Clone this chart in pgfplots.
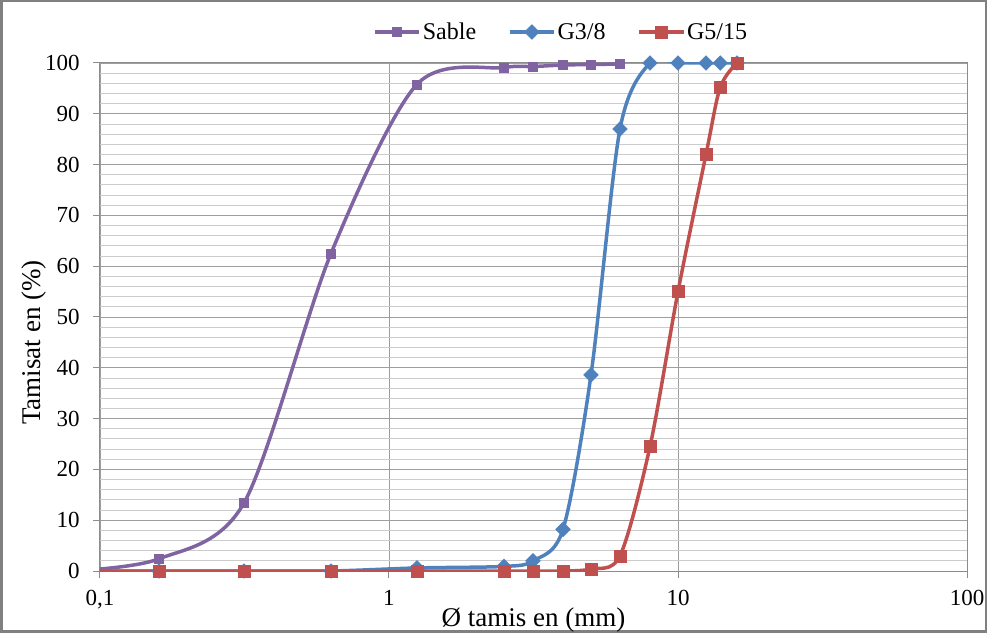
\documentclass[border=0pt]{standalone}
\usepackage{fontspec}
\setmainfont{Liberation Serif}
\usepackage{pgfplots}
\pgfplotsset{compat=1.18}
\definecolor{cPurple}{RGB}{128,100,162}
\definecolor{cBlue}{RGB}{79,129,189}
\definecolor{cRed}{RGB}{192,80,77}
\begin{document}
\begin{tikzpicture}
\useasboundingbox (0,0) rectangle (987bp,633bp);
\draw[color=black!50, line width=2bp] (1.5bp,1.5bp) rectangle (985.5bp,631.5bp);
\begin{axis}[
  at={(100bp,62bp)}, anchor=south west,
  scale only axis, width=867bp, height=508bp,
  font=\fontsize{23bp}{27bp}\selectfont,
  xmode=log, log basis x=10,
  xmin=0.1, xmax=100, ymin=0, ymax=100,
  xtick={0.1,1,10,100}, xticklabels={{0,1},1,10,100},
  ytick={0,10,...,100},
  minor y tick num=4,
  grid=both,
  major grid style={color=black!38, line width=0.9bp},
  minor grid style={color=black!20, line width=0.9bp},
  axis line style={color=black!45, line width=1bp},
  tick pos=left,
  tick align=outside, major tick length=7bp, minor tick length=0pt,
  tick style={color=black!45, line width=1bp},
  yticklabel style={/pgf/number format/assume math mode=true, xshift=-10bp},
  xticklabel style={yshift=-9bp},
  xlabel={\fontsize{27bp}{31bp}\selectfont Ø tamis en (mm)},
  ylabel={\fontsize{27bp}{31bp}\selectfont Tamisat en (\%)},
  every axis x label/.style={at={(axis description cs:0.5,-0.097)}, anchor=center},
  every axis y label/.style={at={(axis description cs:-0.076,0.45)}, anchor=center, rotate=90},
  legend columns=3,
  legend style={at={(axis description cs:0.532,1.061)}, anchor=center, draw=none, fill=none,
    font=\fontsize{24bp}{28bp}\selectfont,
    nodes={inner sep=2bp},
    /tikz/every even column/.append style={column sep=30bp}},
  legend image code/.code={\draw[mark repeat=2, mark phase=2] plot coordinates {(0bp,0bp) (22bp,0bp) (44bp,0bp)};},
  every axis plot/.append style={line width=3.5bp, smooth, tension=0.5},
]
\addplot[color=cPurple, mark=square*, mark size=4.5bp, mark options={solid, line width=0.5bp}]
  coordinates {(0.08,0) (0.16,2.4) (0.315,13.4) (0.63,62.5) (1.25,95.8) (2.5,99.1) (3.15,99.3) (4,99.6) (5,99.7) (6.3,99.8)};
\addlegendentry{Sable}
\addplot[color=cBlue, mark=square*, mark size=5.2bp, mark options={solid, rotate=45, line width=0.5bp}]
  coordinates {(0.08,0) (0.16,0) (0.315,0) (0.63,0) (1.25,0.6) (2.5,0.9) (3.15,2.0) (4,8.2) (5,38.6) (6.3,87.0) (8,100) (10,100) (12.5,100) (14,100) (16,100)};
\addlegendentry{G3/8}
\addplot[color=cRed, mark=square*, mark size=6bp, mark options={solid, line width=0.5bp}]
  coordinates {(0.08,0) (0.16,0) (0.315,0) (0.63,0) (1.25,0) (2.5,0) (3.15,0) (4,0) (5,0.4) (6.3,3.0) (8,24.5) (10,55) (12.5,82) (14,95.2) (16,100)};
\addlegendentry{G5/15}
\end{axis}
\end{tikzpicture}
\end{document}
